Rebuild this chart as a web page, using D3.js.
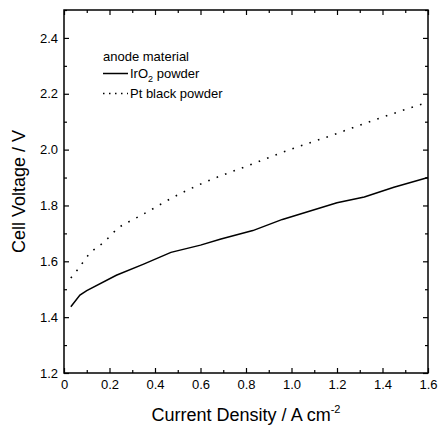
<!DOCTYPE html>
<html>
<head>
<meta charset="utf-8">
<script src="https://cdn.jsdelivr.net/npm/d3@7"></script>
<style>
  body { margin: 0; background: #fff; }
  text { font-family: "Liberation Sans", Arial, sans-serif; fill: #000; }
</style>
</head>
<body>
<div id="chart"></div>
<script>
// donnees
const courantIrO2 = [0.03, 0.07, 0.10, 0.23, 0.35, 0.47, 0.60, 0.69, 0.83, 0.96, 1.20, 1.32, 1.45, 1.60];
const tensionIrO2 = [1.437, 1.479, 1.495, 1.55, 1.59, 1.632, 1.658, 1.68, 1.71, 1.75, 1.81, 1.83, 1.865, 1.90];
const courantPt = [0.03, 0.06, 0.11, 0.18, 0.24, 0.31, 0.38, 0.45, 0.61, 0.80, 0.96, 1.19, 1.36, 1.60];
const tensionPt = [1.54, 1.57, 1.625, 1.672, 1.72, 1.752, 1.783, 1.816, 1.88, 1.94, 1.99, 2.055, 2.105, 2.17];
const xTicks = [0, 0.2, 0.4, 0.6, 0.8, 1.0, 1.2, 1.4, 1.6];
const yTicks = [1.2, 1.4, 1.6, 1.8, 2.0, 2.2, 2.4];
const xMinor = [0.1, 0.3, 0.5, 0.7, 0.9, 1.1, 1.3, 1.5];
const yMinor = [1.3, 1.5, 1.7, 1.9, 2.1, 2.3, 2.5];
const legendeTitre = "anode material";

const width = 438;
const height = 428;
const margin = {top: 10, right: 10, bottom: 55, left: 64};
const w = width - margin.left - margin.right;
const h = height - margin.top - margin.bottom;

const svg = d3.select("#chart")
    .append("svg")
    .attr("width", width)
    .attr("height", height);

const g = svg.append("g")
    .attr("transform", `translate(${margin.left},${margin.top})`);

const x = d3.scaleLinear().domain([0, 1.6]).range([0, w]);
const y = d3.scaleLinear().domain([1.2, 2.5]).range([h, 0]);

const fmtX = d => d === 0 ? "0" : d3.format(".1f")(d);
const fmtY = d3.format(".1f");

// axes avec graduations vers l'interieur
function styleAxe(sel) {
    sel.select(".domain").remove();
    sel.selectAll(".tick line").attr("stroke", "#000").attr("stroke-width", 1.2);
    sel.selectAll(".tick text").style("font-size", "13px").attr("fill", "#000");
}

g.append("g").attr("transform", `translate(0,${h})`)
    .call(d3.axisBottom(x).tickValues(xTicks).tickFormat(fmtX).tickSize(-5).tickPadding(7))
    .call(styleAxe);
g.append("g").attr("transform", `translate(0,${h})`)
    .call(d3.axisBottom(x).tickValues(xMinor).tickFormat("").tickSize(-3))
    .call(styleAxe);
g.append("g")
    .call(d3.axisTop(x).tickValues(xTicks).tickFormat("").tickSize(-5))
    .call(styleAxe);
g.append("g")
    .call(d3.axisTop(x).tickValues(xMinor).tickFormat("").tickSize(-3))
    .call(styleAxe);

g.append("g")
    .call(d3.axisLeft(y).tickValues(yTicks).tickFormat(fmtY).tickSize(-5).tickPadding(6))
    .call(styleAxe);
g.append("g")
    .call(d3.axisLeft(y).tickValues(yMinor).tickFormat("").tickSize(-3))
    .call(styleAxe);
g.append("g").attr("transform", `translate(${w},0)`)
    .call(d3.axisRight(y).tickValues(yTicks).tickFormat("").tickSize(-5))
    .call(styleAxe);
g.append("g").attr("transform", `translate(${w},0)`)
    .call(d3.axisRight(y).tickValues(yMinor).tickFormat("").tickSize(-3))
    .call(styleAxe);

// cadre
g.append("rect")
    .attr("width", w).attr("height", h)
    .attr("fill", "none").attr("stroke", "#000").attr("stroke-width", 1.5);

// courbes
const line = d3.line()
    .x(d => x(d[0]))
    .y(d => y(d[1]));

const ptsIrO2 = courantIrO2.map((c, i) => [c, tensionIrO2[i]]);
const ptsPt = courantPt.map((c, i) => [c, tensionPt[i]]);

g.append("path")
    .datum(ptsIrO2)
    .attr("d", line)
    .attr("fill", "none")
    .attr("stroke", "#000")
    .attr("stroke-width", 1.5);

g.append("path")
    .datum(ptsPt)
    .attr("d", line.curve(d3.curveMonotoneX))
    .attr("fill", "none")
    .attr("stroke", "#000")
    .attr("stroke-width", 1.6)
    .attr("stroke-dasharray", "1.6,7.4");

// legende
const leg = svg.append("g").attr("transform", "translate(103,0)");
leg.append("text").attr("x", 0).attr("y", 61).style("font-size", "13px").text(legendeTitre);
leg.append("line").attr("x1", 0).attr("x2", 25).attr("y1", 73.5).attr("y2", 73.5)
    .attr("stroke", "#000").attr("stroke-width", 1.5);
const t1 = leg.append("text").attr("x", 27).attr("y", 78).style("font-size", "13px");
t1.append("tspan").text("IrO");
t1.append("tspan").attr("dy", 4).style("font-size", "9px").text("2");
t1.append("tspan").attr("dy", -4).text(" powder");
leg.append("line").attr("x1", 0).attr("x2", 25).attr("y1", 93.5).attr("y2", 93.5)
    .attr("stroke", "#000").attr("stroke-width", 1.5).attr("stroke-dasharray", "1.5,4.5");
leg.append("text").attr("x", 27).attr("y", 98).style("font-size", "13px").text("Pt black powder");

// titres des axes
const xt = svg.append("text")
    .attr("x", margin.left + w / 2)
    .attr("y", 421)
    .attr("text-anchor", "middle")
    .style("font-size", "18px");
xt.append("tspan").text("Current Density / A cm");
xt.append("tspan").attr("dy", -8).style("font-size", "11px").text("-2");

svg.append("text")
    .attr("transform", `translate(25,${margin.top + h / 2}) rotate(-90)`)
    .attr("text-anchor", "middle")
    .style("font-size", "18px")
    .text("Cell Voltage / V");
</script>
</body>
</html>
